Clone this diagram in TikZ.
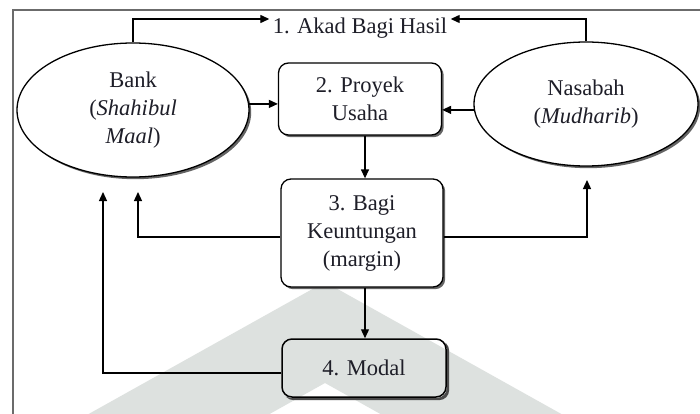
\documentclass[tikz,border=0pt]{standalone}
\usepackage{fontspec}
\setmainfont{Liberation Serif}
\usetikzlibrary{arrows.meta,shapes.geometric,shadows,backgrounds}
\definecolor{txt}{HTML}{1E1E28}
\definecolor{framecol}{HTML}{6B6B6B}
\definecolor{wmark}{HTML}{DDE1DF}
\definecolor{shadowcol}{HTML}{4A4A4A}
\newcommand\wmarkpath{(325,282) -- (60,430) -- (241,430) -- (325,383) -- (409,430) -- (590,430) -- cycle}
\begin{document}
\begin{tikzpicture}[x=1pt,y=-1pt,
  every node/.style={font=\fontsize{22.5}{28}\selectfont, text=txt},
  shad/.style={drop shadow={shadow xshift=2.2pt, shadow yshift=-2.2pt, fill=shadowcol, opacity=0.85}},
  ellnode/.style={draw=black, ellipse, line width=1.3pt, fill=white, inner sep=0pt, align=center, shad},
  boxnode/.style={draw=black, rounded corners=10pt, line width=1.3pt, inner sep=0pt, align=center},
  arr/.style={line width=1.3pt, draw=black, -{Triangle[length=9pt,width=8pt]}},
  ln/.style={line width=1.3pt, draw=black}]
\useasboundingbox (0,0) rectangle (700,414);
% frame
\draw[framecol, line width=1.8pt] (13,10) rectangle (712,430);

% nodes
\node[ellnode, minimum width=232pt, minimum height=134pt] (bank) at (133,110) {Bank\\(\textit{Shahibul}\\\textit{Maal})};
\node[ellnode, minimum width=224pt, minimum height=124pt] (nas) at (586,104) {Nasabah\\(\textit{Mudharib})};
\node (akad) at (360,28) {1. Akad Bagi Hasil};
\node[boxnode, fill=white, shad, minimum width=163pt, minimum height=72pt] (box2) at (360,99) {2. Proyek\\Usaha};
\node[boxnode, fill=white, shad, minimum width=162pt, minimum height=108pt] (box3) at (362,233) {3. Bagi\\Keuntungan\\(margin)};
\node[boxnode, line width=1.5pt, minimum width=164pt, minimum height=58pt] (box4) at (364,368) {4. Modal};

% background, watermark and box 4 shadow behind everything
\begin{pgfonlayer}{background}
\fill[white] (0,0) rectangle (700,414);
\fill[wmark] \wmarkpath;
\fill[shadowcol, rounded corners=10pt]
  ([shift={(2.4,2.4)}]box4.north west) rectangle ([shift={(2.4,2.4)}]box4.south east);
\begin{scope}
\clip[rounded corners=10pt] (box4.north west) rectangle (box4.south east);
\fill[white] (box4.north west) rectangle (box4.south east);
\fill[wmark] \wmarkpath;
\end{scope}
\end{pgfonlayer}

% free ends
\coordinate (bt1) at (138,192);
\coordinate (bt2) at (103,192);
\coordinate (nt1) at (587,180);

% connectors
\draw[arr] (bank.north) |- ([yshift=9pt]akad.west);
\draw[arr] (nas.north) |- ([yshift=9pt]akad.east);
\draw[arr] (bank.3) -- (bank.3 -| box2.west);
\draw[arr] (nas.183) -- (nas.183 -| box2.east);
\draw[arr] (box2.south -| 365,0) -- (box3.north -| 365,0);
\draw[arr] (box3.south -| 365,0) -- (box4.north -| 365,0);
\draw[arr] ([yshift=-4pt]box3.west) -| (bt1);
\draw[arr] ([yshift=-4pt]box3.east) -| (nt1);
\draw[arr] ([yshift=-5pt]box4.west) -| (bt2);
\end{tikzpicture}
\end{document}
